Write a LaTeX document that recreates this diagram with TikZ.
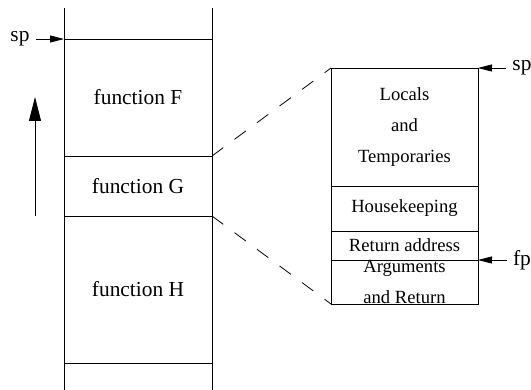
\documentclass[tikz,border=0pt]{standalone}
\usepackage{fontspec}
\setmainfont{Liberation Serif}
\usetikzlibrary{arrows.meta, positioning}

\tikzset{
  cell/.style={draw, minimum width=74pt, inner sep=0pt, outer sep=0pt,
               font=\rmfamily\fontsize{10.7}{13}\selectfont},
  slot/.style={draw, minimum width=73.5pt, inner sep=0pt, outer sep=0pt,
               align=center, font=\rmfamily\fontsize{9.3}{15.5}\selectfont},
  ptr/.style={-{Triangle[length=7pt,width=3.5pt]}},
  growarrow/.style={-{Triangle[length=12pt,width=6pt]}},
  lbl/.style={font=\rmfamily\fontsize{10.7}{13}\selectfont, inner sep=3pt}
}

\begin{document}
\begin{tikzpicture}[x=0.5pt, y=-0.5pt]
    \useasboundingbox (0,0) rectangle (531,390);
    % Stack of frames
    \draw (64,8) -- (64,390);
    \draw (212,8) -- (212,390);
    \node[cell, minimum height=58.5pt] (F) at (138,97.5) {function F};
    \node[cell, minimum height=30pt, below=0pt of F] (G) {function G};
    \node[cell, minimum height=73.5pt, below=0pt of G] (H) {function H};
    % Stack pointer
    \node[lbl] (spl) at (20,39) {sp};
    \draw[ptr] (spl) -- (F.north west);
    % Growth direction
    \draw[growarrow] (35,216) -- (35,97);
    % Layout of one frame
    \node[slot, minimum height=59pt] (loc) at (404.5,127) {Locals\\and\\Temporaries};
    \node[slot, minimum height=22.5pt, below=0pt of loc] (hk) {Housekeeping};
    \node[slot, minimum height=14.5pt, below=0pt of hk] (ret) {Return address};
    \node[slot, minimum height=22pt, below=0pt of ret] (args) {Arguments\\and Return};
    % Zoom lines
    \draw[dash pattern=on 7pt off 7pt] (G.north east) -- (loc.north west);
    \draw[dash pattern=on 7pt off 7pt] (G.south east) -- (args.south west);
    % Frame pointers
    \node[lbl] (spr) at (522,68) {sp};
    \draw[ptr] (spr) -- (loc.north east);
    \node[lbl] (fpr) at (522,260) {fp};
    \draw[ptr] (fpr) -- (args.north east);
\end{tikzpicture}
\end{document}
